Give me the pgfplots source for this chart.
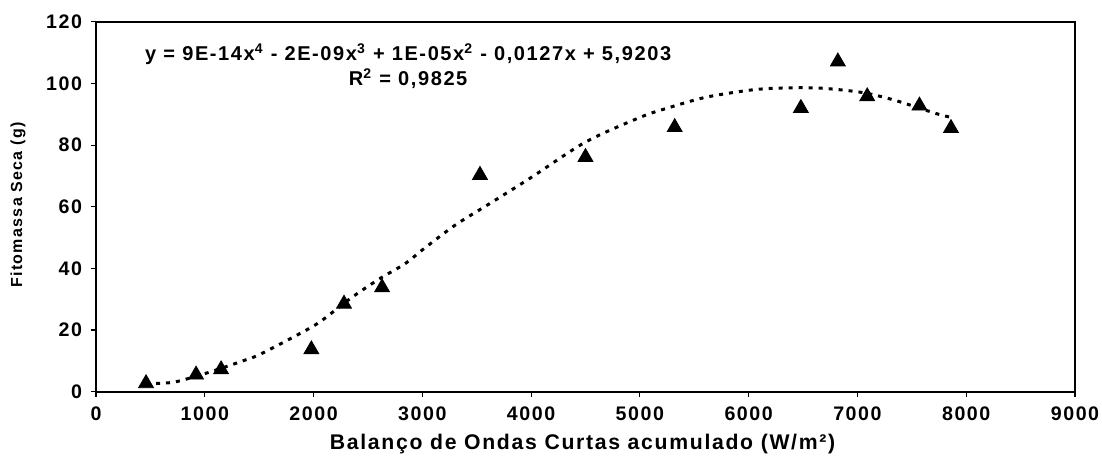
\documentclass[border=0pt]{standalone}
\usepackage{fontspec}
\setmainfont{Liberation Sans}[LetterSpace=8]
\usepackage{pgfplots}
\pgfplotsset{compat=1.18}
\pgfplotstableread{
x y
460 2.7
920 5.5
1150 7.2
1980 13.7
2280 28.5
2630 33.8
3530 70.3
4500 76.1
5320 85.8
6480 92.0
6820 107.1
7090 95.8
7570 92.8
7860 85.5
}\obsdata
\pgfplotstableread{
x y
460 2.6
700 3.0
900 4.8
1100 7.0
1350 10.0
1500 12.0
1850 18.4
2060 22.7
2340 30.3
2600 36.5
2840 41.5
3000 46.0
3300 54.0
3645 61.6
4000 69.5
4500 81.0
5000 89.0
5250 92.0
5600 95.5
6000 97.8
6260 98.5
6600 98.6
6860 97.9
7090 96.8
7360 94.4
7720 90.3
7860 89.0
}\trenddata
\begin{document}
\begin{tikzpicture}
\begin{axis}[
  scale only axis, clip=false,
  axis lines=box,
  width=489.5pt, height=184.9pt,
  xmin=0, xmax=9000, ymin=0, ymax=120,
  xtick={0,1000,...,9000}, ytick={0,20,...,120},
  tick align=outside, xtick pos=bottom, ytick pos=left,
  major tick length=2.5pt,
  axis line style={black, line width=0.8pt},
  every tick/.style={black, line width=0.6pt},
  /pgf/number format/assume math mode=true,
  /pgf/number format/set thousands separator={},
  tick label style={font=\fontsize{9.8}{11}\selectfont\bfseries},
  xticklabel style={yshift=-1.5pt},
  yticklabel style={xshift=-1pt},
  xlabel={Balanço de Ondas Curtas acumulado (W/m²)},
  ylabel={Fitomassa Seca (g)},
  xlabel style={font=\fontsize{10.6}{12}\selectfont\bfseries, at={(axis description cs:0.497,-0.142)}, anchor=center},
  ylabel style={font=\fontsize{8}{9}\selectfont\bfseries, at={(axis description cs:-0.0797,0.505)}, anchor=center},
]
\addplot[black, line width=1.5pt, dash pattern=on 2pt off 3pt, smooth] table[x=x,y=y] {\trenddata};
\addplot[only marks, mark=triangle*, mark size=4.3pt, black] table[x=x,y=y] {\obsdata};
\node[align=center, font=\fontsize{10}{12.5}\selectfont\bfseries] at (axis cs:2870,105.6)
  {y = 9E-14x\textsuperscript{4} - 2E-09x\textsuperscript{3} + 1E-05x\textsuperscript{2} - 0,0127x + 5,9203\\R\textsuperscript{2} = 0,9825};
\end{axis}
\draw[black, line width=1pt] (0,184.9pt) -- (489.5pt,184.9pt) -- (489.5pt,0);
\pgfresetboundingbox
\path[use as bounding box] (-48pt,-34.15pt) rectangle (503pt,195.85pt);
\end{tikzpicture}
\end{document}
